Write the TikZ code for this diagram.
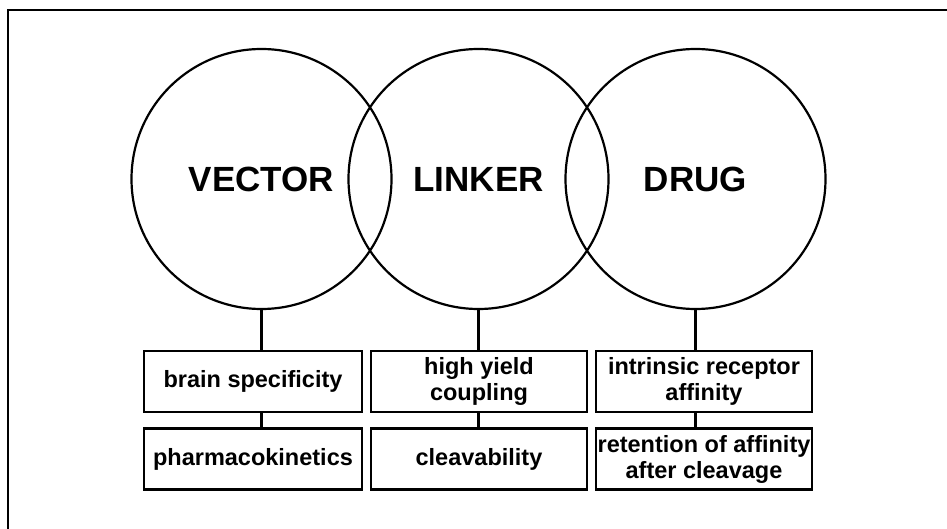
\documentclass[tikz,border=0pt]{standalone}
\usepackage{fontspec}
\setmainfont{Liberation Sans}
\usepackage{tikz}

\begin{document}
\begin{tikzpicture}[x=1pt, y=-1pt,
    part/.style={draw, circle, line width=2.2pt, minimum size=260pt, inner sep=0pt,
        font=\fontsize{35}{40}\selectfont\bfseries},
    need/.style={draw, line width=2.2pt, minimum width=216pt, minimum height=61pt,
        inner sep=0pt, align=center, font=\fontsize{23.5}{26}\selectfont\bfseries},
    link/.style={line width=2.2pt}]
    \useasboundingbox (0, 0) rectangle (947, 529);
    \draw[line width=1.8pt] (8, 529) -- (8, 10) -- (947, 10);

    \node[part] (vector) at (261.5, 179) {VECTOR};
    \node[part] (linker) at (478.5, 179) {LINKER};
    \node[part] (drug) at (695.5, 179) {DRUG};

    \node[need, minimum width=218pt] (v1) at (253, 381.5) {brain specificity};
    \node[need, minimum width=218pt] (v2) at (253, 459) {pharmacokinetics};
    \node[need] (l1) at (479, 381.5) {high yield\\coupling};
    \node[need] (l2) at (479, 459) {cleavability};
    \node[need] (d1) at (704, 381.5) {intrinsic receptor\\affinity};
    \node[need] (d2) at (704, 459) {retention of affinity\\after cleavage};

    \draw[link] (vector.south) -- (vector.south |- v1.north);
    \draw[link] (vector.south |- v1.south) -- (vector.south |- v2.north);
    \draw[link] (linker.south) -- (linker.south |- l1.north);
    \draw[link] (linker.south |- l1.south) -- (linker.south |- l2.north);
    \draw[link] (drug.south) -- (drug.south |- d1.north);
    \draw[link] (drug.south |- d1.south) -- (drug.south |- d2.north);
\end{tikzpicture}
\end{document}
